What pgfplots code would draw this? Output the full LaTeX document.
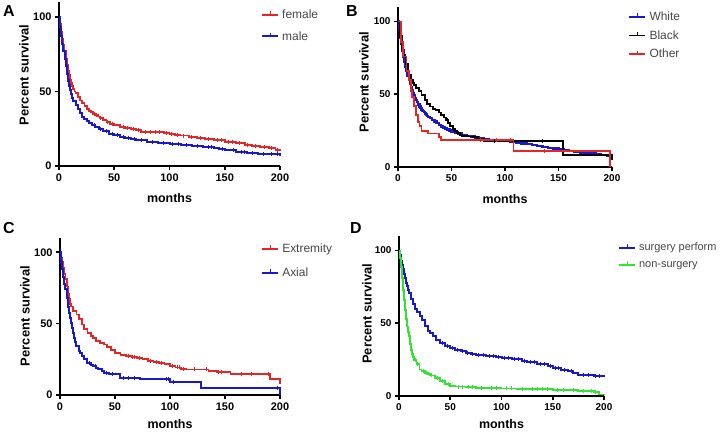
\documentclass[border=0pt]{standalone}
\usepackage{pgfplots}
\pgfplotsset{compat=1.18}
\usepackage{fontspec}
\setmainfont{Liberation Sans}
\definecolor{kmred}{RGB}{232,36,36}
\definecolor{kmblue}{RGB}{24,24,205}
\definecolor{kmgreen}{RGB}{50,228,50}
\definecolor{leggray}{RGB}{70,70,70}
\pgfplotsset{
  km/.style={
    axis lines=left,
    axis line style={line width=2bp,-},
    tick style={line width=1.6bp,black},
    tick align=outside,
    major tick length=4bp,
    xmin=0,xmax=200,ymin=0,ymax=110,
    xtick={0,50,100,150,200},
    ytick={0,50,100},
    scale only axis,
    clip=false,
    /pgf/number format/assume math mode=true,
    tick label style={font=\bfseries\fontsize{11}{11}\selectfont},
    xlabel={months},
    ylabel={Percent survival},
    xlabel style={font=\bfseries\fontsize{12.5}{12.5}\selectfont,at={(axis description cs:0.5,0)},anchor=base,yshift=-36bp},
    legend style={draw=none,fill=none,inner sep=0pt,font=\fontsize{12}{12}\selectfont,text=leggray,
      cells={anchor=west},nodes={inner sep=1bp},column sep=2bp},
  },
  kmline/.style={const plot,line width=1.8bp,line join=miter,
    legend image code/.code={\draw[##1,mark=none] (0bp,0bp) -- (16bp,0bp);
      \draw[##1,mark=none,line width=1.1bp] (8bp,0bp) -- (8bp,3.5bp);}},
  cens/.style={only marks,mark=|,mark size=2bp,mark options={line width=1bp},forget plot},
}
\begin{document}
\begin{tikzpicture}
\path[use as bounding box] (0bp,0bp) rectangle (721bp,-433bp);
% ---------------- Panel A ----------------
\node[font=\bfseries\fontsize{16}{16}\selectfont] at (9bp,-11bp) {A};
\begin{axis}[km,at={(59bp,-166bp)},anchor=south west,width=221bp,height=164bp,
  ylabel style={font=\bfseries\fontsize{13}{13}\selectfont,at={(axis description cs:-0.158,0.555)},anchor=center},
  legend style={at={(axis description cs:0.914,0.960)},anchor=north west,row sep=9.5bp}]
\addplot[kmline,kmred] coordinates {(0,100)(1,95)(2,90)(3,85)(4,81)(5,77)(6,72)(7,68)(8,64)(9,61)(10,58)(11,55.5)(12,53.5)(13,51.5)(14,50)(15,49)(17,46.5)(19,44)(21,42)(23,40)(25,38.5)(27,37)(29,36)(31,35)(33,34)(35,33.2)(37,32)(40,30.6)(43,29.5)(46,28.3)(50,27.3)(55,26.3)(60,25.5)(65,25)(70,24.4)(74,22.8)(95,22)(100,21.3)(105,20.8)(110,20.4)(118,19.6)(125,19)(132,18.3)(140,17.5)(150,16.1)(160,15.2)(168,14.2)(175,13.4)(182,12.6)(190,12)(196,11)(200,10)};
\addlegendentry{female}
\addplot[kmline,kmblue,line width=2bp] coordinates {(0,100)(1,93)(2,87)(3,82)(4,77)(5,72)(6,67)(7,62)(8,57.5)(9,54)(10,50.8)(11,48)(12,45.5)(13,43.5)(15,40.7)(17,38)(19,35.5)(21,33.2)(23,31.5)(25,30.2)(27,29)(30,27.3)(33,26)(36,24.8)(40,23.3)(45,21.8)(50,20.6)(55,19.7)(60,19)(65,18)(70,17.2)(80,16.1)(90,15.5)(100,15)(110,14.3)(120,13.4)(130,12.9)(140,12.3)(145,11.2)(150,10.5)(160,9.6)(170,8.7)(180,8.2)(190,7.8)(200,6.7)};
\addlegendentry{male}
\addplot[cens,kmred] coordinates {(32,35)(34,34)(38,32)(44,29.5)(48,28.3)(58,26.3)(62,25.5)(67,25)(72,24.4)(78,22.8)(83,22.8)(87,22.8)(91,22.8)(97,22)(102,21.3)(107,20.8)(113,20.4)(120,19.6)(128,19)(135,18.3)(143,17.5)(147,17.5)(153,16.1)(157,16.1)(163,15.2)(171,14.2)(178,13.4)(186,12.6)(192,12)(198,11)};
\addplot[cens,kmblue] coordinates {(7.5,62)(8,57.5)(8.5,57.5)(9,54)(9.5,54)(10,50.8)(10.5,50.8)(11,48)(32,27.3)(38,24.8)(43,23.3)(48,21.8)(53,20.6)(58,19.7)(63,19)(68,18)(75,17.2)(85,16.1)(95,15.5)(103,15)(108,15)(115,14.3)(125,13.4)(135,12.9)(138,12.9)(148,11.2)(158,10.5)(165,9.6)(168,9.6)(175,8.7)(185,8.2)(192,7.8)(198,7.8)};
\end{axis}
% ---------------- Panel B ----------------
\node[font=\bfseries\fontsize{16}{16}\selectfont] at (352bp,-11bp) {B};
\begin{axis}[km,at={(398bp,-167bp)},anchor=south west,width=214bp,height=160bp,
  tick label style={font=\bfseries\fontsize{10}{10}\selectfont},
  ylabel style={font=\bfseries\fontsize{13}{13}\selectfont,at={(axis description cs:-0.159,0.53)},anchor=center},
  legend style={at={(axis description cs:1.075,0.978)},anchor=north west,row sep=6.5bp}]
\addplot[kmline,kmblue,line width=2.3bp] coordinates {(0,100)(1,94)(2,89)(3,84.5)(4,80)(5,76)(6,72.5)(7,69)(8,66)(9,63)(10,60)(11,57.5)(12,55)(13,53)(14,51)(15,49.2)(16,47.5)(17,46)(18,44.5)(19,43)(20,41.6)(21,40.5)(22,39.4)(23,38.5)(24,37.6)(25,36.8)(26,36)(27,35.3)(28,34.6)(30,33.6)(32,32.4)(34,31.3)(36,30.2)(38,29)(40,27.9)(42,27.1)(44,26.4)(46,25.7)(48,25.1)(50,24.5)(53,23.8)(56,23.1)(60,22.2)(64,21.5)(68,20.9)(72,20.3)(76,19.8)(80,19.3)(85,18.8)(90,18.4)(95,18.1)(100,17.8)(105,17.2)(110,16.7)(115,16.1)(120,15.6)(125,15)(130,14.4)(135,13.9)(140,13.3)(145,12.7)(150,12.2)(155,11.6)(160,11)(165,10.5)(170,10)(175,9.6)(180,9.2)(185,8.7)(190,8.3)(195,7.9)(200,7.5)};
\addlegendentry{White}
\addplot[kmline,black,line width=1.9bp] coordinates {(0,100)(2,90)(4,81)(5,77)(7,71)(9,66)(10,63.4)(12,60)(14,58)(15,56.5)(17,54.5)(20,52)(22,49.5)(25,46)(27,43.5)(30,41.6)(33,40)(35,39.4)(38,37.5)(40,36)(43,34)(45,32.5)(47,30.5)(49,28)(51,26)(53,24.5)(55,23.3)(58,22)(60,21.5)(65,21)(70,20.6)(75,19.5)(80,17.6)(154,8.5)(200,4.5)};
\addlegendentry{Black}
\addplot[kmline,kmred] coordinates {(0,100)(3,86)(5,76)(8,66)(10,60)(12,52)(13,48)(15,42)(17,36)(19,31)(20,28)(22,24.5)(28,23)(38,20.5)(40,18.8)(108,10.8)(198,0)};
\addlegendentry{Other}
\addplot[cens,black] coordinates {(46,32.5)(52,26)(90,17.6)(135,17.6)};
\addplot[cens,kmred] coordinates {(77,18.8)(92,18.8)(105,18.8)(137,10.8)};
\end{axis}
% ---------------- Panel C ----------------
\node[font=\bfseries\fontsize{16}{16}\selectfont] at (9bp,-228bp) {C};
\begin{axis}[km,at={(60bp,-395bp)},anchor=south west,width=220bp,height=157bp,
  xlabel style={yshift=3bp},
  ylabel style={font=\bfseries\fontsize{13}{13}\selectfont,at={(axis description cs:-0.159,0.503)},anchor=center},
  legend style={at={(axis description cs:0.914,0.971)},anchor=north west,row sep=12bp}]
\addplot[kmline,kmred] coordinates {(0,100)(1,96)(2,93)(3,89)(4,85)(5,81)(6,76)(7,71)(8,67)(9,64)(10,62)(12,59)(15,56.4)(17,53.5)(20,49.4)(22,46)(25,43.6)(28,41.5)(30,40)(33,38)(36,36.5)(40,35.4)(43,33.5)(46,31.5)(50,29.6)(55,28.3)(60,27.3)(65,26.6)(70,26.1)(75,25)(80,23.8)(85,23)(90,22.6)(95,21.5)(100,20.3)(105,19.3)(110,18.4)(115,17.9)(135,16.8)(143,16.3)(155,14.5)(191,11)(200,7.5)};
\addlegendentry{Extremity}
\addplot[kmline,kmblue,line width=2bp] coordinates {(0,100)(0.5,93)(2,88)(3,83)(4,78)(5,74)(6,68)(7,62)(8,57.6)(9,54)(10,50.6)(11,47)(12,43.6)(13,40)(14,37)(15,34.3)(17,31)(18,29.6)(20,27.3)(22,25)(25,22.6)(28,21.2)(30,20.3)(33,19)(35,18.4)(38,16.5)(40,15.6)(45,15)(50,14.5)(55,12.1)(73,11)(100,9.3)(128,5.1)(200,0)};
\addlegendentry{Axial}
\addplot[cens,kmred] coordinates {(62,27.3)(66,26.6)(68,26.6)(72,26.1)(82,23.8)(88,23)(92,22.6)(102,20.3)(107,19.3)(109,19.3)(112,18.4)(122,17.9)(133,17.9)(144,16.3)(147,16.3)(165,14.5)(174,14.5)(190,14.5)};
\addplot[cens,kmblue] coordinates {(27,22.6)(32,20.3)(42,15.6)(48,15)(58,12.1)(62,12.1)(68,12.1)(97,11)(99,11)(103,9.3)(198,5.1)};
\end{axis}
% ---------------- Panel D ----------------
\node[font=\bfseries\fontsize{16}{16}\selectfont] at (356bp,-228bp) {D};
\begin{axis}[km,at={(399bp,-396bp)},anchor=south west,width=205bp,height=160bp,
  xlabel style={yshift=4bp},
  tick label style={font=\bfseries\fontsize{10}{10}\selectfont},
  ylabel style={font=\bfseries\fontsize{13}{13}\selectfont,at={(axis description cs:-0.156,0.515)},anchor=center},
  legend style={at={(axis description cs:1.068,0.965)},anchor=north west,row sep=7bp,font=\fontsize{11}{11}\selectfont}]
\addplot[kmline,kmblue,line width=2bp] coordinates {(0,100)(1,97)(2,93)(3,90)(4,87)(5,84)(6,81)(7,78)(8,75.5)(9,73)(10,70.6)(12,67)(14,63.5)(16,60)(18,57.5)(20,54.7)(22,52)(25,47.8)(28,45)(30,43.3)(33,41)(36,38.8)(40,36.4)(45,34.5)(50,33)(55,31.8)(60,30.8)(65,29.8)(70,29)(75,28.5)(85,27.5)(95,26.7)(100,26.2)(110,25.2)(120,24.2)(125,23.5)(135,22)(145,20.4)(150,19.4)(158,18.2)(165,17)(170,15.5)(175,14.1)(190,14)(200,13.2)};
\addlegendentry{surgery perform}
\addplot[kmline,kmgreen] coordinates {(0,100)(1,95)(2,88.8)(3,81)(4,73)(5,66)(6,59)(7,53)(8,47.8)(9,44)(10,41)(11,36)(12,31.9)(13,29)(14,27)(15,25)(17,22)(20,18.2)(22,17)(25,16)(28,15)(30,14.1)(35,12.2)(40,10.3)(45,8.5)(50,6.8)(55,6.5)(65,6)(75,5.7)(100,5.2)(115,4.6)(150,4.1)(175,3.4)(190,3)(195,1.1)(200,0.5)};
\addlegendentry{non-surgery}
\addplot[cens,kmblue] coordinates {(42,36.4)(47,34.5)(52,33)(57,31.8)(62,30.8)(67,29.8)(72,29)(78,28.5)(82,28.5)(88,27.5)(92,27.5)(97,26.7)(103,26.2)(107,26.2)(113,25.2)(117,25.2)(122,24.2)(128,23.5)(132,23.5)(138,22)(142,22)(148,20.4)(153,19.4)(156,19.4)(161,18.2)(168,17)(180,14.1)(185,14.1)(192,14)(196,14)};
\addplot[cens,kmgreen] coordinates {(12.5,31.9)(13.5,29)(16,25)(18,22)(24,17)(27,16)(32,14.1)(38,12.2)(42,10.3)(48,8.5)(58,6.5)(62,6.5)(68,6)(72,6)(80,5.7)(90,5.7)(95,5.7)(105,5.2)(110,5.2)(120,4.6)(130,4.6)(135,4.6)(140,4.6)(145,4.6)(155,4.1)(160,4.1)(170,4.1)(180,3.4)(188,3.4)(192,3)};
\end{axis}
\end{tikzpicture}
\end{document}
